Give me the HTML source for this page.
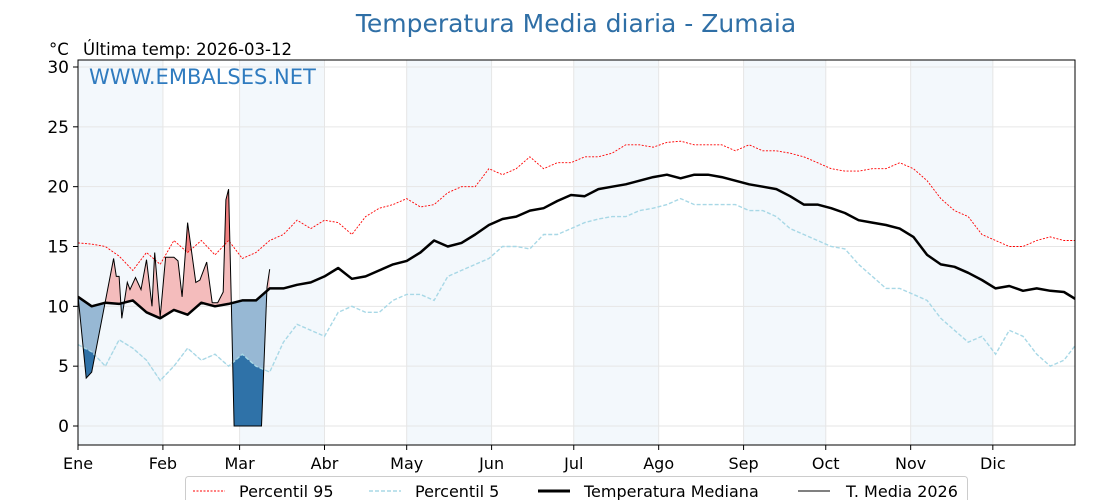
<!DOCTYPE html>
<html><head><meta charset="utf-8"><style>
body{margin:0;background:#fff;}
svg{display:block;font-family:"DejaVu Sans","Liberation Sans",sans-serif;}
</style></head><body>
<svg id="c" width="1120" height="500" viewBox="0 0 1120 500">
<text x="576" y="32" text-anchor="middle" font-size="25" fill="#2f6fa6">Temperatura Media diaria - Zumaia</text>
<text x="49" y="55" font-size="16.5" fill="#000">°C</text>
<text x="83" y="55" font-size="16.5" fill="#000">Última temp: 2026-03-12</text>
<g id="bands"></g>
<g id="grid"></g>
<defs>
<clipPath id="plotclip"><rect x="78" y="60" width="997" height="385"/></clipPath>
<clipPath id="aboveMed"><polygon id="amp"/></clipPath>
<clipPath id="belowMed"><polygon id="bmp"/></clipPath>
<clipPath id="belowP5"><polygon id="bp5"/></clipPath>
<clipPath id="aboveP95"><polygon id="ap95"/></clipPath>
</defs>
<g id="marks" clip-path="url(#plotclip)"></g>
<text x="89" y="84" font-size="21" fill="#2f7bbf">WWW.EMBALSES.NET</text>
<rect x="78" y="60" width="997" height="385" fill="none" stroke="#000" stroke-width="1"/>
<g id="axes"></g>
<g>
<rect x="185.5" y="476.5" width="782" height="30" rx="3" fill="#fff" stroke="#ccc"/>
<line x1="193" y1="491" x2="225" y2="491" stroke="red" stroke-width="1" stroke-dasharray="2,1.5"/>
<text x="239" y="497" font-size="16">Percentil 95</text>
<line x1="369" y1="491" x2="401" y2="491" stroke="#a8d8e6" stroke-width="1.5" stroke-dasharray="4,2"/>
<text x="415" y="497" font-size="16">Percentil 5</text>
<line x1="538" y1="491" x2="570" y2="491" stroke="#000" stroke-width="3"/>
<text x="584" y="497" font-size="16">Temperatura Mediana</text>
<line x1="798" y1="491" x2="830" y2="491" stroke="#000" stroke-width="1"/>
<text x="846" y="497" font-size="16">T. Media 2026</text>
</g>
</svg>
<script>
const monthLabels=["Ene","Feb","Mar","Abr","May","Jun","Jul","Ago","Sep","Oct","Nov","Dic"];
const monthStarts=[0,31,59,90,120,151,181,212,243,273,304,334];
const yTicks=[0,5,10,15,20,25,30];
const stepDays=5;
const median=[10.8,10,10.3,10.2,10.5,9.5,9,9.7,9.3,10.3,
10,10.2,10.5,10.5,11.5,11.5,11.8,12,12.5,13.2,
12.3,12.5,13,13.5,13.8,14.5,15.5,15,15.3,16,
16.8,17.3,17.5,18,18.2,18.8,19.3,19.2,19.8,20,
20.2,20.5,20.8,21,20.7,21,21,20.8,20.5,20.2,
20,19.8,19.2,18.5,18.5,18.2,17.8,17.2,17,16.8,
16.5,15.8,14.3,13.5,13.3,12.8,12.2,11.5,11.7,11.3,
11.5,11.3,11.2,10.5];
const p95=[15.3,15.2,15,14.2,13,14.5,13.5,15.5,14.5,15.5,
14.3,15.5,14,14.5,15.5,16,17.2,16.5,17.2,17,
16,17.5,18.2,18.5,19,18.3,18.5,19.5,20,20,
21.5,21,21.5,22.5,21.5,22,22,22.5,22.5,22.8,
23.5,23.5,23.3,23.7,23.8,23.5,23.5,23.5,23,23.5,
23,23,22.8,22.5,22,21.5,21.3,21.3,21.5,21.5,
22,21.5,20.5,19,18,17.5,16,15.5,15,15,
15.5,15.8,15.5,15.5];
const p5=[6.8,6.2,5,7.2,6.5,5.5,3.8,5,6.5,5.5,
6,5,6,5,4.5,7,8.5,8,7.5,9.5,
10,9.5,9.5,10.5,11,11,10.5,12.5,13,13.5,
14,15,15,14.8,16,16,16.5,17,17.3,17.5,
17.5,18,18.2,18.5,19,18.5,18.5,18.5,18.5,18,
18,17.5,16.5,16,15.5,15,14.8,13.5,12.5,11.5,
11.5,11,10.5,9,8,7,7.5,6,8,7.5,
6,5,5.5,7];
const days2026=[0,3,5,13,14,15,16,18,19,21,23,25,27,28,30,32,35,36.5,38,40,43,44.5,47,49,51,53,54,55,56,57,67,69,70];
const temp2026=[10.9,4.0,4.5,14,12.5,12.5,9,12,11.4,12.4,11.4,13.9,10,14.5,9.1,14.1,14.1,13.8,10.8,17,12,12.2,13.7,10.3,10.3,11.2,18.9,19.8,10,0,0,11.6,13.1];

const NS="http://www.w3.org/2000/svg";
const X=d=>78+d*997/364;
const Y=v=>426-v*359/30;
function mk(tag,attrs,parent){const e=document.createElementNS(NS,tag);for(const k in attrs)e.setAttribute(k,attrs[k]);parent.appendChild(e);return e;}
const bands=document.getElementById('bands'),grid=document.getElementById('grid'),marks=document.getElementById('marks'),axes=document.getElementById('axes');
for(let i=0;i<12;i+=2){const x1=X(monthStarts[i]),x2=X(i+1<12?monthStarts[i+1]:365);
const r=mk('rect',{x:x1,y:60,width:x2-x1,height:385,fill:'#f3f8fc'},bands);

}
yTicks.forEach(t=>{const l=mk('line',{x1:78,x2:1075,y1:Y(t),y2:Y(t),stroke:'#e6e6e6','stroke-width':1},grid);


mk('line',{x1:73,x2:78,y1:Y(t),y2:Y(t),stroke:'#000'},axes);
const tx=mk('text',{x:69,y:Y(t)+6,'text-anchor':'end','font-size':17},axes);tx.textContent=t;

});
monthStarts.forEach((d,i)=>{const l=mk('line',{x1:X(d),x2:X(d),y1:60,y2:445,stroke:'#e6e6e6'},grid);


mk('line',{x1:X(d),x2:X(d),y1:445,y2:450,stroke:'#000'},axes);
const tx=mk('text',{x:X(d),y:469,'text-anchor':'middle','font-size':16},axes);tx.textContent=monthLabels[i];

});
const pts=arr=>arr.map((v,i)=>[X(i*stepDays),Y(v)]);
const toS=p=>p.map(q=>q[0].toFixed(1)+','+q[1].toFixed(1)).join(' ');
const medP=pts(median),p95P=pts(p95),p5P=pts(p5);
const t26=days2026.map((d,i)=>[X(d),Y(temp2026[i])]);
document.getElementById('amp').setAttribute('points',toS([[X(0),0],...medP,[X(366),0]]));
document.getElementById('bmp').setAttribute('points',toS([[X(0),500],...medP,[X(366),500]]));
document.getElementById('bp5').setAttribute('points',toS([[X(0),500],...p5P,[X(366),500]]));
document.getElementById('ap95').setAttribute('points',toS([[X(0),0],...p95P,[X(366),0]]));
const last=days2026[days2026.length-1];
function interp(arr,d){const i=Math.floor(d/stepDays),f=d/stepDays-i;return arr[i]+(arr[Math.min(i+1,arr.length-1)]-arr[i])*f;}
function refPath(arr){const r=[];arr.forEach((v,i)=>{if(i*stepDays<last)r.push([X(i*stepDays),Y(v)]);});r.push([X(last),Y(interp(arr,last))]);return r;}
function fillBetween(arr,fill,clip,name){const r=refPath(arr).reverse();
const pg=mk('polygon',{points:toS([...t26,...r]),fill:fill,'clip-path':'url(#'+clip+')'},marks);

}
fillBetween(median,'#f4bcbc','aboveMed','fill-above-median');
fillBetween(median,'#97b8d4','belowMed','fill-below-median');
fillBetween(p95,'#f08080','aboveP95','fill-above-p95');
fillBetween(p5,'#2f72a8','belowP5','fill-below-p5');
function line(P,attrs,name){const e=mk('polyline',Object.assign({points:toS(P),fill:'none'},attrs),marks);

}
line(p95P,{stroke:'red','stroke-width':0.9,'stroke-dasharray':'2,1.5'},'percentil-95-line');
line(p5P,{stroke:'#a8d8e6','stroke-width':1.4,'stroke-dasharray':'4,2'},'percentil-5-line');
line(medP,{stroke:'#000','stroke-width':2.5,'stroke-linejoin':'round'},'median-line');
line(t26,{stroke:'#000','stroke-width':1},'temp-2026-line');
</script>
</body></html>
